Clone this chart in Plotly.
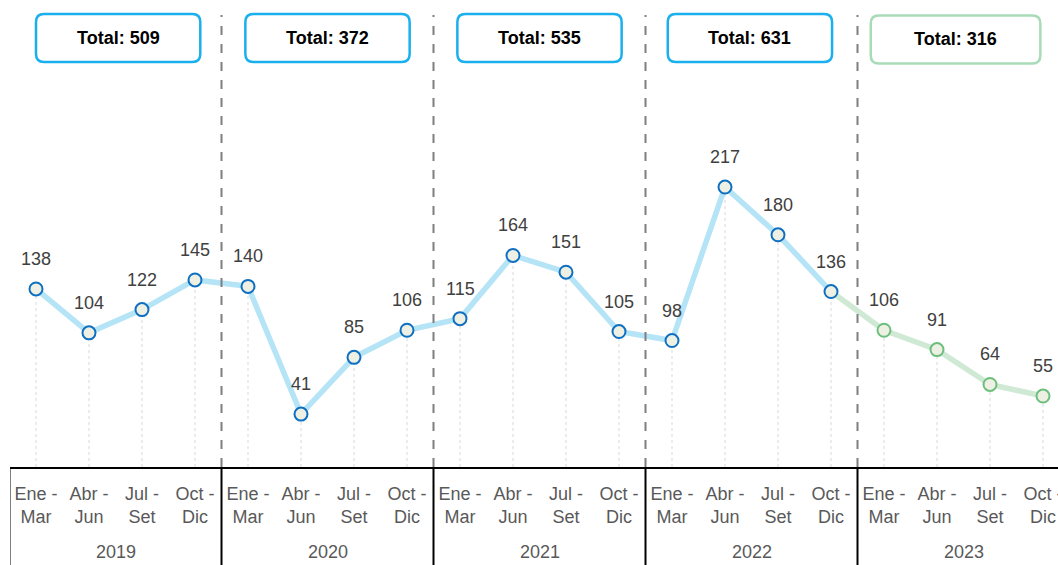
import plotly.graph_objects as go

years = ["2019", "2020", "2021", "2022", "2023"]
quarters = ["Ene -<br>Mar", "Abr -<br>Jun", "Jul -<br>Set", "Oct -<br>Dic"]
values_2019 = [138, 104, 122, 145]
values_2020 = [140, 41, 85, 106]
values_2021 = [115, 164, 151, 105]
values_2022 = [98, 217, 180, 136]
values_2023 = [106, 91, 64, 55]

all_vals = values_2019 + values_2020 + values_2021 + values_2022 + values_2023
groups = [values_2019, values_2020, values_2021, values_2022, values_2023]
totals = [sum(g) for g in groups]
n = len(all_vals)
xs = list(range(n))
ticktext = quarters * len(years)

FONT = "Liberation Sans, Arial"
BLUE_LINE = "#b5e4f7"
GREEN_LINE = "#cfe9d5"
BLUE_MK = "#0f6fc0"
GREEN_MK = "#6cbf7c"
MK_FILL = "#eef0e4"

fig = go.Figure()

dx, dy = [], []
for i, v in zip(xs, all_vals):
    dx += [i, i, None]
    dy += [0, v, None]
fig.add_trace(go.Scatter(x=dx, y=dy, mode="lines", hoverinfo="skip",
                         line=dict(color="#ececec", width=2, dash="dot"), showlegend=False))

split = 16
fig.add_trace(go.Scatter(x=xs[:split], y=all_vals[:split], mode="lines",
                         line=dict(color=BLUE_LINE, width=5.5), showlegend=False))
fig.add_trace(go.Scatter(x=xs[split - 1:], y=all_vals[split - 1:], mode="lines",
                         line=dict(color=GREEN_LINE, width=5.5), showlegend=False))
fig.add_trace(go.Scatter(x=xs[:split], y=all_vals[:split], mode="markers",
                         marker=dict(size=13, color=MK_FILL, line=dict(color=BLUE_MK, width=2)),
                         showlegend=False))
fig.add_trace(go.Scatter(x=xs[split:], y=all_vals[split:], mode="markers",
                         marker=dict(size=13, color=MK_FILL, line=dict(color=GREEN_MK, width=2)),
                         showlegend=False))

annotations = []
for i, v in zip(xs, all_vals):
    annotations.append(dict(x=i, y=v, text=str(v), showarrow=False, yshift=30,
                            yanchor="middle", xanchor="center",
                            font=dict(family=FONT, size=18, color="#404040")))

shapes = []
H = 467.0
for k in range(1, len(years)):
    xb = 4 * k - 0.5
    shapes.append(dict(type="line", xref="x", yref="paper", x0=xb, x1=xb, y0=0, y1=(H - 15) / H,
                       line=dict(color="#7f7f7f", width=2, dash="dash")))
for k in range(0, len(years)):
    xb = 4 * k - 0.5
    shapes.append(dict(type="line", xref="x", yref="paper", x0=xb, x1=xb, y0=0, y1=-110 / H,
                       line=dict(color="#000000", width=2)))

for k, yr in enumerate(years):
    annotations.append(dict(x=4 * k + 1.5, y=-(552 - H) / H, xref="x", yref="paper", text=yr,
                            showarrow=False, yanchor="middle", xanchor="center",
                            font=dict(family=FONT, size=18, color="#595959")))

box_centers = [1.55, 5.5, 9.5, 13.47, 17.35]
box_half = [1.55, 1.55, 1.55, 1.55, 1.6]
box_colors = ["#1ab0ee", "#1ab0ee", "#1ab0ee", "#1ab0ee", "#a9dbb9"]
rx = 8 / 53.0
ry = 8 / H
for k, t in enumerate(totals):
    c = box_centers[k]
    x0, x1 = c - box_half[k], c + box_half[k]
    top = 14 if k < 4 else 15.5
    y1 = (H - top) / H
    y0 = (H - top - 48) / H
    p = (f"M {x0+rx},{y1} L {x1-rx},{y1} Q {x1},{y1} {x1},{y1-ry} L {x1},{y0+ry} "
         f"Q {x1},{y0} {x1-rx},{y0} L {x0+rx},{y0} Q {x0},{y0} {x0},{y0+ry} "
         f"L {x0},{y1-ry} Q {x0},{y1} {x0+rx},{y1} Z")
    shapes.append(dict(type="path", xref="x", yref="paper", path=p,
                       line=dict(color=box_colors[k], width=2.5), fillcolor="white"))
    annotations.append(dict(x=c, y=(y0 + y1) / 2, xref="x", yref="paper", text=f"<b>Total: {t}</b>",
                            showarrow=False, yanchor="middle", xanchor="center",
                            font=dict(family=FONT, size=18, color="#000000")))

r0 = -26 / 53.0
fig.update_layout(
    width=1058, height=565,
    margin=dict(l=10, r=0, t=0, b=98, autoexpand=False),
    plot_bgcolor="white", paper_bgcolor="white",
    xaxis=dict(range=[r0, r0 + 1048 / 53.0], tickvals=xs, ticktext=ticktext, showgrid=False,
               zeroline=False, showline=True, linecolor="#000000", linewidth=2, ticks="",
               ticklabelstandoff=9, ticklabeloverflow="allow", automargin=False,
               tickfont=dict(family=FONT, size=18, color="#595959")),
    yaxis=dict(range=[0, 362], visible=False, showgrid=False, zeroline=False, automargin=False),
    shapes=shapes, annotations=annotations,
)

fig.write_html("out.html", config={"displayModeBar": False},
               post_script="document.body.style.margin='0';document.body.style.overflow='hidden';")
